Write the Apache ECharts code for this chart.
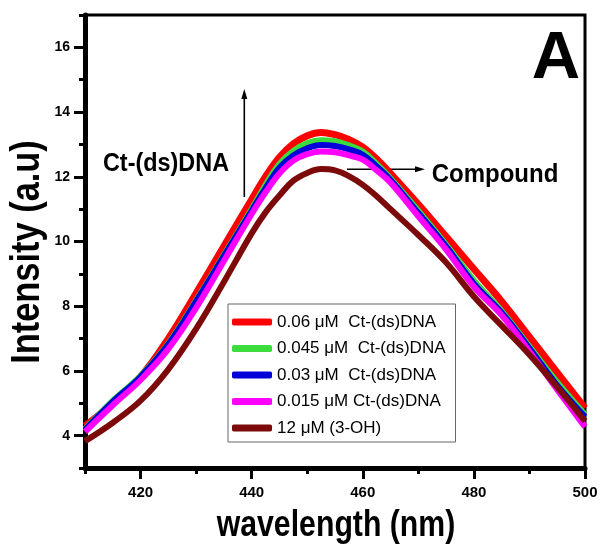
<!DOCTYPE html>
<html>
<head>
<meta charset="utf-8">
<script src="https://cdn.jsdelivr.net/npm/echarts@6/dist/echarts.min.js"></script>
<style>
html,body{margin:0;padding:0;background:#fff;}
#chart{width:601px;height:553px;}
</style>
</head>
<body>
<div id="chart"></div>
<script>
// ---- data ----
const wavelength = [410, 415, 420, 425, 430, 435, 440, 442.5, 445, 447.5, 450, 452.5, 455, 457.5, 460, 462.5, 465, 470, 475, 480, 485, 490, 495, 500];
const dna060  = [4.30, 5.00, 5.82, 7.00, 8.40, 9.85, 11.30, 12.00, 12.60, 13.02, 13.27, 13.37, 13.30, 13.15, 12.92, 12.55, 12.10, 11.15, 10.15, 9.15, 8.15, 7.05, 5.95, 4.85];
const dna045  = [4.20, 5.08, 5.85, 6.85, 8.18, 9.58, 11.00, 11.75, 12.40, 12.80, 13.04, 13.13, 13.10, 12.97, 12.78, 12.40, 11.95, 10.95, 9.90, 8.80, 7.85, 6.75, 5.65, 4.65];
const dna030  = [4.18, 5.05, 5.82, 6.82, 8.15, 9.55, 10.95, 11.65, 12.28, 12.66, 12.88, 12.98, 12.95, 12.85, 12.68, 12.32, 11.90, 10.88, 9.85, 8.70, 7.80, 6.70, 5.55, 4.58];
const dna015  = [4.12, 4.94, 5.72, 6.68, 7.95, 9.40, 10.85, 11.52, 12.10, 12.50, 12.70, 12.78, 12.76, 12.66, 12.53, 12.20, 11.82, 10.78, 9.75, 8.60, 7.72, 6.60, 5.42, 4.27];
const cmpd3OH = [3.83, 4.40, 5.08, 6.05, 7.30, 8.75, 10.25, 10.90, 11.42, 11.88, 12.12, 12.24, 12.20, 12.02, 11.75, 11.40, 11.00, 10.20, 9.35, 8.30, 7.40, 6.50, 5.50, 4.45];
const seriesNames = ['0.06 \u03bcM  Ct-(ds)DNA', '0.045 \u03bcM  Ct-(ds)DNA', '0.03 \u03bcM  Ct-(ds)DNA', '0.015 \u03bcM Ct-(ds)DNA', '12 \u03bcM (3-OH)'];
const xTickLabels = [420, 440, 460, 480, 500];
const yTickLabels = [4, 6, 8, 10, 12, 14, 16];
const xTitle = 'wavelength (nm)';
const yTitle = 'Intensity (a.u)';
const annotDNA = 'Ct-(ds)DNA';
const annotCompound = 'Compound';
const panelLabel = 'A';

// ---- chart ----
const FONT = '"Liberation Sans", Arial, sans-serif';
const colors = ['#ff0000', '#3ddc3d', '#0000d8', '#ff00ff', '#7d0a0a'];
const widths = [7, 6, 6, 6, 6];
const allValues = [dna060, dna045, dna030, dna015, cmpd3OH];

const chart = echarts.init(document.getElementById('chart'), null, {renderer: 'canvas'});

const series = allValues.map((vals, i) => ({
  name: seriesNames[i],
  type: 'line',
  smooth: 0.4,
  symbol: 'none',
  showSymbol: false,
  color: colors[i],
  xAxisIndex: 0,
  yAxisIndex: 0,
  lineStyle: {width: widths[i], color: colors[i]},
  data: wavelength.map((w, j) => [w, vals[j]])
}));

const tickStyle = {color: '#000', width: 3};
const labelStyle = {fontWeight: 'bold', color: '#000', fontFamily: FONT};

const option = {
  animation: false,
  backgroundColor: '#fff',
  grid: {left: 85, right: 16, top: 15, bottom: 85, show: true, borderColor: '#000', borderWidth: 3, backgroundColor: 'transparent'},
  xAxis: [
    {
      type: 'value', min: 410, max: 500, interval: 10, position: 'bottom',
      axisLine: {lineStyle: {color: '#000', width: 5}},
      axisTick: {inside: false, length: 11, lineStyle: tickStyle, customValues: xTickLabels},
      axisLabel: Object.assign({margin: 17, fontSize: 15, customValues: xTickLabels}, labelStyle),
      splitLine: {show: false}
    },
    {
      type: 'value', min: 410, max: 500, interval: 10, position: 'bottom', gridIndex: 0,
      axisLine: {show: false},
      axisTick: {inside: false, length: 6, lineStyle: tickStyle},
      axisLabel: {show: false},
      splitLine: {show: false}
    }
  ],
  yAxis: [
    {
      type: 'value', min: 3, max: 17, interval: 1, position: 'left',
      axisLine: {lineStyle: {color: '#000', width: 5}},
      axisTick: {inside: false, length: 11, lineStyle: tickStyle, customValues: yTickLabels},
      axisLabel: Object.assign({margin: 15, fontSize: 14, customValues: yTickLabels}, labelStyle),
      splitLine: {show: false}
    },
    {
      type: 'value', min: 3, max: 17, interval: 1, position: 'left', gridIndex: 0,
      axisLine: {show: false},
      axisTick: {inside: false, length: 6, lineStyle: tickStyle},
      axisLabel: {show: false},
      splitLine: {show: false}
    }
  ],
  legend: {
    orient: 'vertical', left: 228, top: 304,
    padding: [9, 10, 5, 4],
    itemWidth: 40, itemHeight: 7, itemGap: 8.5,
    icon: 'roundRect',
    borderColor: '#666', borderWidth: 1, backgroundColor: '#fff',
    textStyle: {fontSize: 17, lineHeight: 18, color: '#000', fontFamily: FONT},
    data: seriesNames
  },
  series: series,
  graphic: [
    {type: 'text', x: 28, y: 252, rotation: Math.PI / 2, scaleX: 0.86,
      style: {text: yTitle, font: 'bold 40px ' + FONT, fill: '#000', align: 'center', verticalAlign: 'middle'}},
    {type: 'text', x: 336, y: 526, scaleX: 0.84,
      style: {text: xTitle, font: 'bold 36px ' + FONT, fill: '#000', align: 'center', verticalAlign: 'middle'}},
    {type: 'text', x: 166, y: 164, scaleX: 0.9,
      style: {text: annotDNA, font: 'bold 26px ' + FONT, fill: '#000', align: 'center', verticalAlign: 'middle'}},
    {type: 'text', x: 495, y: 175, scaleX: 0.96,
      style: {text: annotCompound, font: 'bold 25px ' + FONT, fill: '#000', align: 'center', verticalAlign: 'middle'}},
    {type: 'text', x: 556, y: 60,
      style: {text: panelLabel, font: 'bold 67px ' + FONT, fill: '#000', align: 'center', verticalAlign: 'middle'}},
    // up arrow
    {type: 'line', shape: {x1: 244.3, y1: 197, x2: 244.3, y2: 96}, style: {stroke: '#000', lineWidth: 1.6}},
    {type: 'polygon', shape: {points: [[244.3, 89], [241.3, 99], [247.3, 99]]}, style: {fill: '#000'}},
    // right arrow
    {type: 'line', shape: {x1: 347, y1: 169.3, x2: 417, y2: 169.3}, style: {stroke: '#000', lineWidth: 1.6}},
    {type: 'polygon', shape: {points: [[425, 169.3], [415, 166.3], [415, 172.3]]}, style: {fill: '#000'}}
  ]
};
chart.setOption(option);
</script>
</body>
</html>
